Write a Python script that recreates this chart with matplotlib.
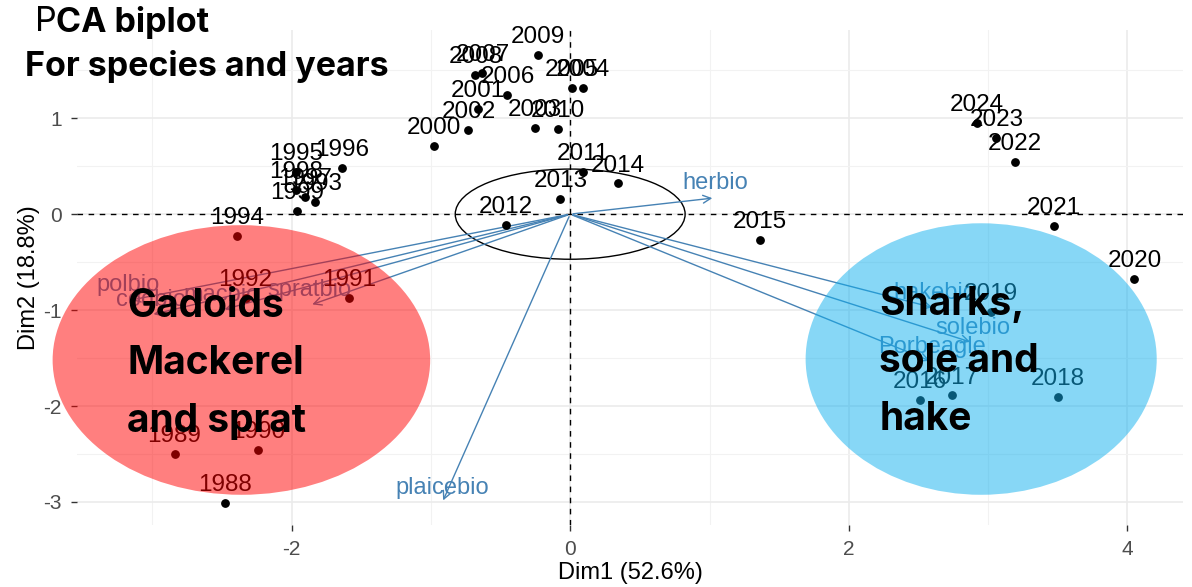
import matplotlib.pyplot as plt
from matplotlib.patches import Ellipse
import numpy as np

plt.rcParams['axes.unicode_minus'] = False

# individuals (years) on the first two dimensions
years = [1988, 1989, 1990, 1991, 1992, 1993, 1994, 1995, 1996, 1997, 1998, 1999,
         2000, 2001, 2002, 2003, 2004, 2005, 2006, 2007, 2008, 2009, 2010, 2011,
         2012, 2013, 2014, 2015, 2016, 2017, 2018, 2019, 2020, 2021, 2022, 2023, 2024]
dim1 = [-2.48, -2.84, -2.24, -1.59, -2.33, -1.83, -2.39, -1.97, -1.64, -1.90, -1.97, -1.96,
        -0.98, -0.66, -0.73, -0.25, 0.09, 0.01, -0.45, -0.63, -0.68, -0.23, -0.09, 0.09,
        -0.46, -0.07, 0.34, 1.36, 2.51, 2.74, 3.50, 3.02, 4.05, 3.47, 3.19, 3.06, 2.92]
dim2 = [-3.01, -2.50, -2.46, -0.875, -0.875, 0.125, -0.23, 0.44, 0.48, 0.18, 0.25, 0.03,
        0.71, 1.10, 0.875, 0.90, 1.32, 1.32, 1.24, 1.47, 1.45, 1.66, 0.89, 0.44,
        -0.11, 0.16, 0.32, -0.27, -1.94, -1.89, -1.91, -1.02, -0.68, -0.125, 0.54, 0.79, 0.95]

# variables (species biomass)
variables = ['polbio', 'codbio', 'macbio', 'spratbio', 'herbio', 'plaicebio',
             'hakebio', 'solebio', 'Porbeagle']
var_x = [-3.17, -3.01, -2.50, -1.87, 1.04, -0.92, 2.62, 2.89, 2.60]
var_y = [-0.90, -1.05, -1.00, -0.95, 0.17, -3.01, -0.98, -1.34, -1.54]

fig = plt.figure(figsize=(11.92, 5.87), dpi=100)
ax = fig.add_axes([0.0646, 0.1056, 0.928, 0.8434])

ax.set_xlim(-3.54, 4.40)
ax.set_ylim(-3.24, 1.92)

# minimal theme
ax.set_xticks([-2, 0, 2, 4])
ax.set_yticks([-3, -2, -1, 0, 1])
ax.set_xticks([-3, -1, 1, 3], minor=True)
ax.set_yticks([-2.5, -1.5, -0.5, 0.5, 1.5], minor=True)
ax.grid(True, which='major', color='#ebebeb', lw=1.2)
ax.grid(True, which='minor', color='#f2f2f2', lw=0.8)
ax.set_axisbelow(True)
for s in ax.spines.values():
    s.set_visible(False)
ax.tick_params(which='major', length=4, width=1, color='#333333',
               labelsize=15, labelcolor='#4d4d4d', pad=7)
ax.tick_params(which='minor', length=0)
for lab in ax.get_xticklabels() + ax.get_yticklabels():
    lab.set_family('Liberation Sans')
ax.set_xlabel('Dim1 (52.6%)', fontsize=17, family='Liberation Sans', labelpad=2)
ax.set_ylabel('Dim2 (18.8%)', fontsize=17, family='Liberation Sans', labelpad=2)

ax.axhline(0, color='black', ls=(0, (4, 4)), lw=1)
ax.axvline(0, color='black', ls=(0, (4, 4)), lw=1)

# correlation circle
ax.add_patch(Ellipse((0, 0), 1.65, 0.94, fill=False, ec='black', lw=1))

ax.scatter(dim1, dim2, s=28, color='black', zorder=3)
for yr, x, y in zip(years, dim1, dim2):
    ax.annotate(str(yr), (x, y), xytext=(0, 5), textcoords='offset points',
                ha='center', va='bottom', fontsize=17.5, family='Liberation Sans',
                color='black', zorder=3)

for name, x, y in zip(variables, var_x, var_y):
    ax.annotate('', xy=(x, y), xytext=(0, 0),
                arrowprops=dict(arrowstyle='->', color='#4682b4', lw=1,
                                mutation_scale=14), zorder=2)
    ax.annotate(name, (x, y), xytext=(0, 3), textcoords='offset points',
                ha='center', va='bottom', fontsize=17, family='Liberation Sans',
                color='#4682b4', zorder=2)

# group overlays
ax.add_patch(Ellipse((-2.36, -1.52), 2.71, 2.81, color='#ff0000', alpha=0.5,
                     lw=0, zorder=5, clip_on=False))
ax.add_patch(Ellipse((2.95, -1.51), 2.52, 2.83, color='#10b0ee', alpha=0.5,
                     lw=0, zorder=5, clip_on=False))

ax.text(-3.18, -0.77, 'Gadoids\nMackerel\nand sprat', fontsize=28,
        fontweight='bold', family='Inter', va='top', ha='left',
        linespacing=1.7, zorder=6)
ax.text(2.22, -0.75, 'Sharks,\nsole and\nhake', fontsize=28,
        fontweight='bold', family='Inter', va='top', ha='left',
        linespacing=1.7, zorder=6)

# title
t1 = fig.text(0.029, 0.962, 'P', fontsize=24.5, family='Inter', va='center')
fig.canvas.draw()
bb = t1.get_window_extent()
fig.text(bb.x1 / fig.bbox.width, 0.962, 'CA biplot', fontsize=24.5,
         fontweight='bold', family='Inter', va='center')
fig.text(0.021, 0.886, 'For species and years', fontsize=24.5,
         fontweight='bold', family='Inter', va='center')

fig.savefig('out.png', dpi=100)
